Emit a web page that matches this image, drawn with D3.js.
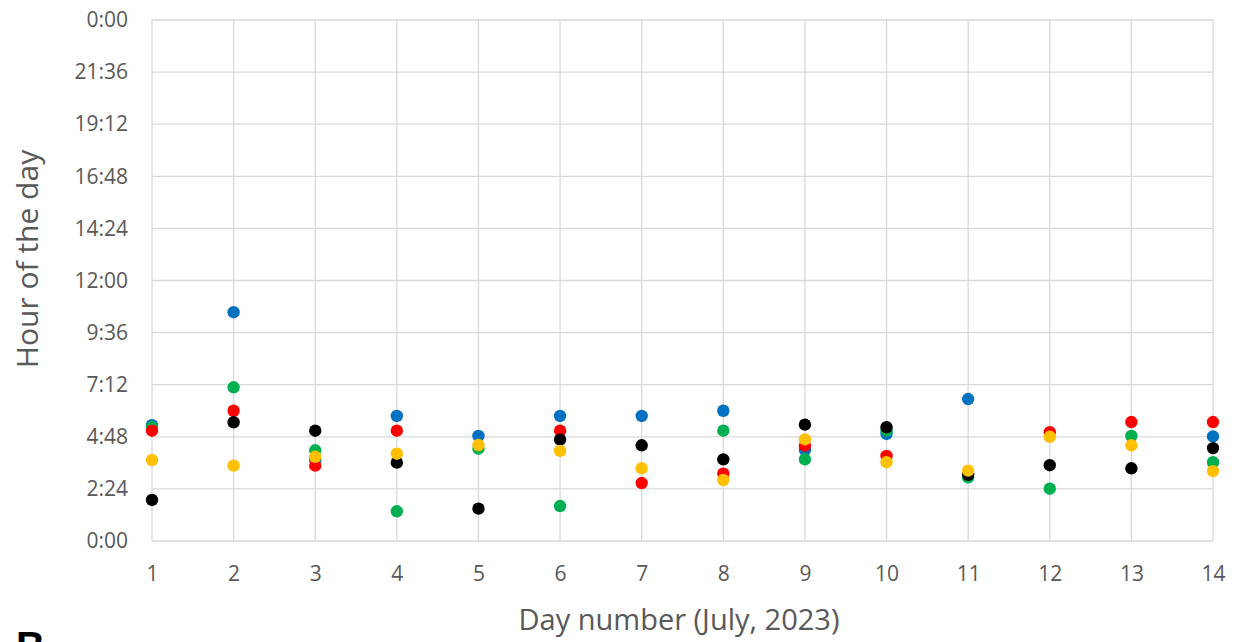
<!DOCTYPE html>
<html>
<head>
<meta charset="utf-8">
<title>Hour of the day</title>
<style>
  body { margin: 0; background: #fff; }
  text { font-family: "Open Sans", "Noto Sans", sans-serif; }
</style>
</head>
<body>
<script src="https://cdn.jsdelivr.net/npm/d3@7"></script>
<script>
// days of July 2023
var days = [1, 2, 3, 4, 5, 6, 7, 8, 9, 10, 11, 12, 13, 14];
// hour of the day (decimal hours), null = no point
var blue   = [5.34, 10.54, 3.73, 5.76, 4.84, 5.76, 5.76, 6.00, 4.19, 4.93, 6.54, null, null, 4.82];
var green  = [5.25, 7.08, 4.18, 1.37, 4.25, 1.61, null, 5.08, 3.76, 5.10, 2.93, 2.41, 4.84, 3.63];
var red    = [5.08, 6.00, 3.47, 5.08, null, 5.08, 2.67, 3.10, 4.39, 3.92, null, 5.01, 5.48, 5.48];
var black  = [1.89, 5.47, 5.08, 3.61, 1.49, 4.67, 4.41, 3.76, 5.36, 5.24, 3.05, 3.49, 3.35, 4.28];
var yellow = [3.73, 3.47, 3.88, 4.02, 4.42, 4.15, 3.35, 2.81, 4.68, 3.63, 3.24, 4.80, 4.41, 3.22];
var yTicks = [0, 2.4, 4.8, 7.2, 9.6, 12, 14.4, 16.8, 19.2, 21.6, 24];

var series = [
  {name: "blue",   values: blue,   color: "#0070C0"},
  {name: "green",  values: green,  color: "#00B050"},
  {name: "red",    values: red,    color: "#FF0000"},
  {name: "black",  values: black,  color: "#000000"},
  {name: "yellow", values: yellow, color: "#FFC000"}
];

var width = 1235, height = 642;
var svg = d3.select("body").append("svg")
    .attr("width", width)
    .attr("height", height);

var x = d3.scaleLinear().domain([1, 14]).range([152, 1213]);
var y = d3.scaleLinear().domain([0, 24]).range([541, 20]);

function fmt(h) {
  var hh = Math.floor(h + 1e-6) % 24;
  var mm = Math.round((h - Math.floor(h + 1e-6)) * 60);
  return hh + ":" + (mm < 10 ? "0" + mm : mm);
}

// grid
svg.append("g").selectAll("line.h")
  .data(yTicks)
  .join("line")
  .attr("x1", x(1)).attr("x2", x(14))
  .attr("y1", d => y(d)).attr("y2", d => y(d))
  .attr("stroke", "#d9d9d9").attr("stroke-width", 1.3);

svg.append("g").selectAll("line.v")
  .data(days)
  .join("line")
  .attr("x1", d => x(d)).attr("x2", d => x(d))
  .attr("y1", y(0)).attr("y2", y(24))
  .attr("stroke", "#d9d9d9").attr("stroke-width", 1.3);

// axes
var yAxis = d3.axisLeft(y).tickValues(yTicks).tickFormat(fmt).tickSize(0).tickPadding(24);
var gy = svg.append("g").attr("transform", "translate(152,0)").call(yAxis);
gy.select(".domain").remove();
gy.selectAll("text").attr("font-size", 21).attr("fill", "#595959")
  .style("font-family", "'Open Sans', sans-serif");

var xAxis = d3.axisBottom(x).tickValues(days).tickFormat(d3.format("d")).tickSize(0).tickPadding(25);
var gx = svg.append("g").attr("transform", "translate(0,541)").call(xAxis);
gx.select(".domain").remove();
gx.selectAll("text").attr("font-size", 21).attr("fill", "#595959")
  .style("font-family", "'Open Sans', sans-serif");

// points
series.forEach(function(s) {
  svg.append("g").selectAll("circle")
    .data(s.values.map((v, i) => ({day: days[i], v: v})).filter(d => d.v != null))
    .join("circle")
    .attr("cx", d => x(d.day))
    .attr("cy", d => y(d.v))
    .attr("r", 6.2)
    .attr("fill", s.color);
});

// titles
svg.append("text")
  .attr("x", 679).attr("y", 630)
  .attr("text-anchor", "middle")
  .attr("font-size", 29).attr("fill", "#595959")
  .text("Day number (July, 2023)");

svg.append("text")
  .attr("transform", "translate(38,259) rotate(-90)")
  .attr("text-anchor", "middle")
  .attr("font-size", 30).attr("fill", "#595959")
  .text("Hour of the day");

// panel letter, cut off at the bottom edge as in the source figure
svg.append("text")
  .attr("x", 16).attr("y", 660)
  .attr("font-size", 40).attr("font-weight", "bold").attr("fill", "#000")
  .style("font-family", "'Liberation Sans', Arial, sans-serif")
  .text("B");
</script>
</body>
</html>
